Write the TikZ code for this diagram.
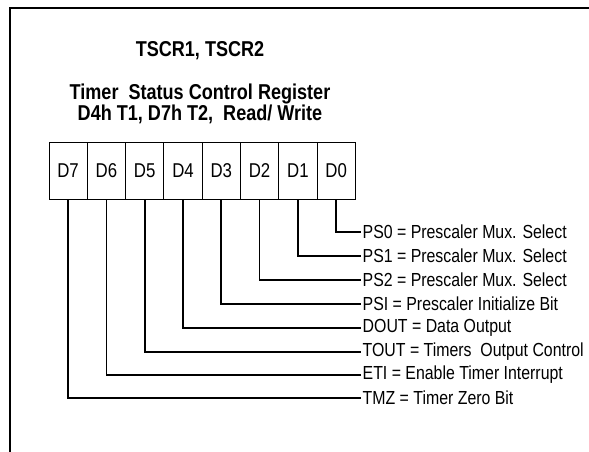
\documentclass[tikz,border=0pt]{standalone}
\usepackage{fontspec}
\setmainfont{Liberation Sans}[FakeStretch=0.84]
\begin{document}
\begin{tikzpicture}[x=1pt,y=-1pt,
  cell/.style={draw,line width=0.9pt,minimum width=38.3pt,minimum height=57.5pt,inner sep=0pt,font=\fontsize{20}{20}\selectfont,anchor=north west},
  lbl/.style={anchor=west,inner xsep=1.5pt,inner ysep=0pt,font=\fontsize{18.9}{18.9}\selectfont},
  ttl/.style={font=\bfseries\fontsize{21.5}{21.5}\selectfont,inner sep=0pt},
  conn/.style={line width=1.7pt}]
\useasboundingbox (0,0) rectangle (589,452);
\draw[line width=2.6pt] (10,452) -- (10,8) -- (589,8);
\node[ttl] (t1) at (200,51) {TSCR1, TSCR2};
\node[ttl] (t2) at (200,94) {Timer \ Status Control Register};
\node[ttl] (t3) at (200,114) {D4h T1, D7h T2, \ Read/ Write};
\foreach \i/\n in {0/7,1/6,2/5,3/4,4/3,5/2,6/1,7/0}{
  \node[cell] (d\n) at (48.5+38.3*\i,141.5) {D\n};
}
\node[lbl] (l0) at (361,232) {PS0 = Prescaler Mux. Select};
\node[lbl] (l1) at (361,256) {PS1 = Prescaler Mux. Select};
\node[lbl] (l2) at (361,280) {PS2 = Prescaler Mux. Select};
\node[lbl] (l3) at (361,304) {PSI = Prescaler Initialize Bit};
\node[lbl] (l4) at (361,328) {DOUT = Data Output};
\node[lbl] (l5) at (361,352) {TOUT = Timers \ Output Control};
\node[lbl] (l6) at (361,375) {ETI = Enable Timer Interrupt};
\node[lbl] (l7) at (361,398) {TMZ = Timer Zero Bit};
\foreach \n in {0,...,7}{
  \draw[conn] (d\n.south) |- (l\n.west);
}
\end{tikzpicture}
\end{document}
